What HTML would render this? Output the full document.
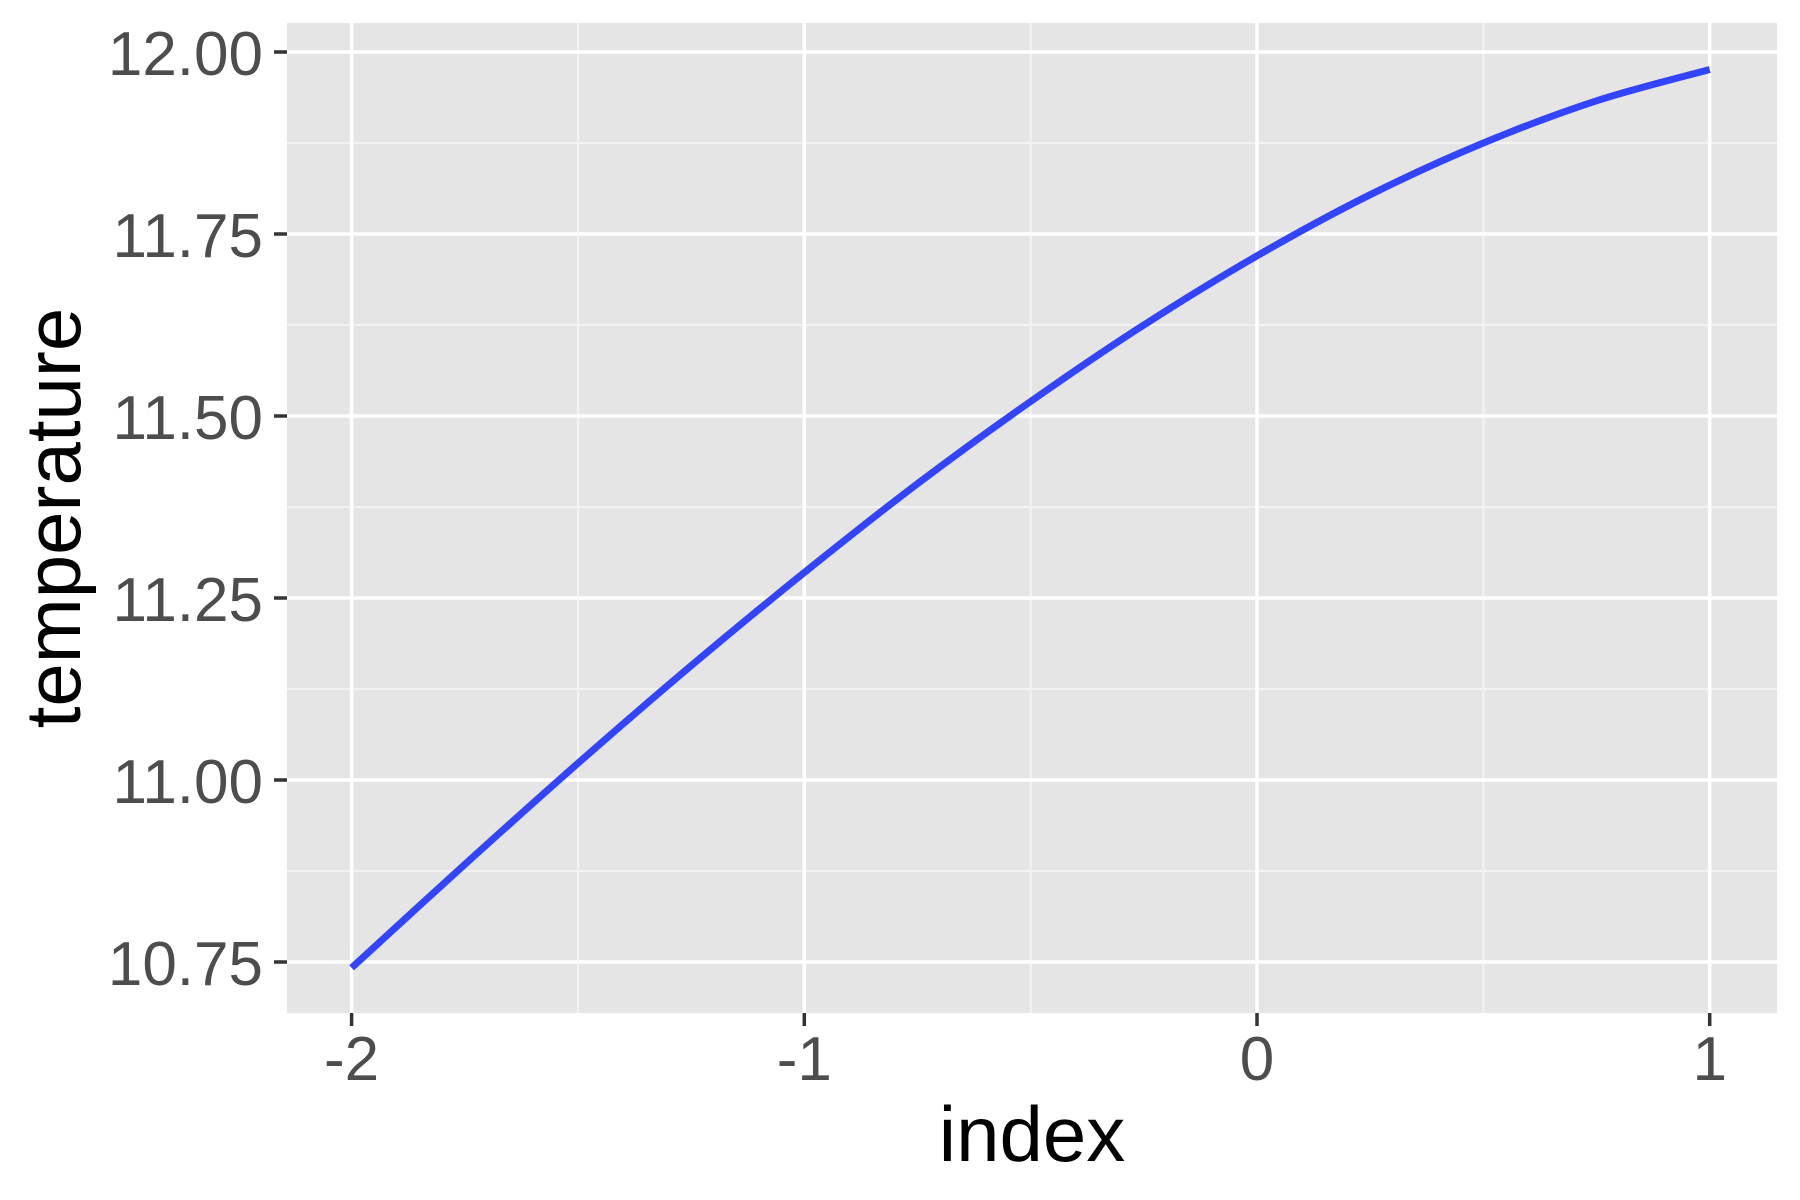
<!DOCTYPE html>
<html><head><meta charset="utf-8"><style>
html,body{margin:0;padding:0;background:#fff;}
svg{display:block;font-family:"Liberation Sans",Arial,sans-serif;}
</style></head><body>
<svg id="chart" width="1800" height="1200" viewBox="0 0 1800 1200">
<rect x="0" y="0" width="1800" height="1200" fill="#fff"/>
<rect x="287" y="23" width="1490" height="990" fill="#e5e5e5"/>
<g id="grid"></g>
<g id="ticks"></g>
<path id="line" fill="none" stroke="#3344ff" stroke-width="7"/>
<text x="1032" y="1161" font-size="78" text-anchor="middle" fill="#000">index</text>
<text transform="translate(80,518) rotate(-90)" font-size="78" text-anchor="middle" fill="#000">temperature</text>
</svg>
<script>
const xValues = [-2, -1.75, -1.5, -1.25, -1, -0.75, -0.5, -0.25, 0, 0.25, 0.5, 0.75, 1];
const yValues = [10.742, 10.884, 11.023, 11.157, 11.285, 11.407, 11.520, 11.625, 11.72, 11.804, 11.875, 11.933, 11.976];
const xTicks = [-2, -1, 0, 1];
const xTickLabels = ["-2", "-1", "0", "1"];
const yTicks = [10.75, 11.0, 11.25, 11.5, 11.75, 12.0];
const yTickLabels = ["10.75", "11.00", "11.25", "11.50", "11.75", "12.00"];

const NS = "http://www.w3.org/2000/svg";
function sx(v){ return 1257 + (v - 0) * 452.7; }
function sy(v){ return 52 + (12 - v) * 728; }
const grid = document.getElementById('grid');
const ticks = document.getElementById('ticks');
function mk(tag, attrs, parent){ const e = document.createElementNS(NS, tag); for (const k in attrs) e.setAttribute(k, attrs[k]); parent.appendChild(e); return e; }

for (let i = 0; i < xTicks.length - 1; i++) {
  const m = (xTicks[i] + xTicks[i+1]) / 2;
  const l = mk('line', {x1: sx(m), x2: sx(m), y1: 23, y2: 1013, stroke: '#f2f2f2', 'stroke-width': 2}, grid);
  
  
}
for (let i = 0; i < yTicks.length - 1; i++) {
  const m = (yTicks[i] + yTicks[i+1]) / 2;
  const l = mk('line', {x1: 287, x2: 1777, y1: sy(m), y2: sy(m), stroke: '#f2f2f2', 'stroke-width': 2}, grid);
  
  
}
xTicks.forEach((t, i) => {
  const l = mk('line', {x1: sx(t), x2: sx(t), y1: 23, y2: 1013, stroke: '#fff', 'stroke-width': 3.5}, grid);
  
  
  const tk = mk('line', {x1: sx(t), x2: sx(t), y1: 1013, y2: 1026, stroke: '#333', 'stroke-width': 3.5}, ticks);
  
  
  const tx = mk('text', {x: sx(t), y: 1080, 'font-size': 62, 'text-anchor': 'middle', fill: '#4d4d4d'}, ticks);
  tx.textContent = xTickLabels[i];
  
  
});
yTicks.forEach((t, i) => {
  const l = mk('line', {x1: 287, x2: 1777, y1: sy(t), y2: sy(t), stroke: '#fff', 'stroke-width': 3.5}, grid);
  
  
  const tk = mk('line', {x1: 274, x2: 287, y1: sy(t), y2: sy(t), stroke: '#333', 'stroke-width': 3.5}, ticks);
  
  
  const tx = mk('text', {x: 263, y: sy(t) + 23, 'font-size': 62, 'text-anchor': 'end', fill: '#4d4d4d'}, ticks);
  tx.textContent = yTickLabels[i];
  
  
});
const pts = xValues.map((x, i) => [sx(x), sy(yValues[i])]);
let d = 'M' + pts[0][0] + ',' + pts[0][1];
for (let i = 0; i < pts.length - 1; i++) {
  const p0 = pts[Math.max(0, i-1)], p1 = pts[i], p2 = pts[i+1], p3 = pts[Math.min(pts.length-1, i+2)];
  const c1 = [p1[0] + (p2[0]-p0[0])/6, p1[1] + (p2[1]-p0[1])/6];
  const c2 = [p2[0] - (p3[0]-p1[0])/6, p2[1] - (p3[1]-p1[1])/6];
  d += ' C' + c1.join(',') + ' ' + c2.join(',') + ' ' + p2.join(',');
}
document.getElementById('line').setAttribute('d', d);
</script>
</body></html>
